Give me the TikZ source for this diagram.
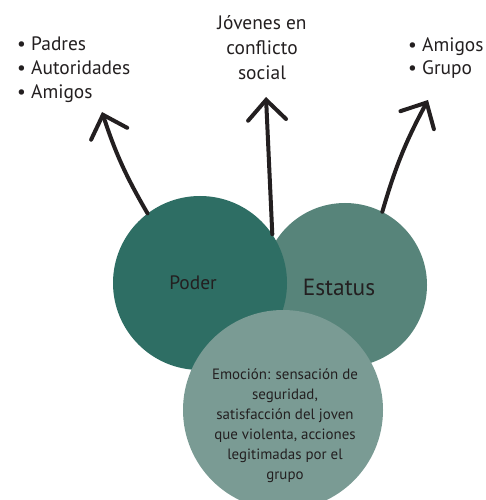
\documentclass[tikz,border=0pt]{standalone}
\usepackage{fontspec}
\setmainfont{PT Sans}
\usetikzlibrary{arrows.meta}
\definecolor{poderclr}{RGB}{46,110,100}
\definecolor{estatusclr}{RGB}{87,132,122}
\definecolor{emocionclr}{RGB}{122,155,148}
\definecolor{inkclr}{RGB}{35,31,32}
\newcommand{\bul}{\makebox[14bp][l]{\textbullet}}

\begin{document}
\begin{tikzpicture}
  [x=1bp,y=-1bp,every node/.style={text=inkclr},
   blob/.style={circle,inner sep=0pt},
   arr/.style={line width=4bp,line cap=round,draw=inkclr,
     -{Straight Barb[length=20bp,width=38bp,line cap=round]}}]
  \useasboundingbox (0,0) rectangle (486,500);

  \node (estatus) at (345,285) [blob,fill=estatusclr,minimum size=164bp] {};
  \node (poder)   at (200,283) [blob,fill=poderclr,minimum size=174bp] {};
  \node (emocion) at (283,410) [blob,fill=emocionclr,minimum size=200bp] {};

  \node (poderlbl)   at (193,283) [font=\fontsize{19.5}{22}\selectfont] {Poder};
  \node (estatuslbl) at (339,287) [font=\fontsize{23.5}{28}\selectfont] {Estatus};
  \node (emocionlbl) at (285,426) [align=center,font=\fontsize{15}{20}\selectfont]
    {Emoción: sensación de\\seguridad,\\satisfacción del joven\\que violenta, acciones\\legitimadas por el\\grupo};

  \node (izq) at (17,37) [anchor=north west,align=left,inner sep=0pt,
    font=\fontsize{19.5}{24}\selectfont] {\bul Padres\\\bul Autoridades\\\bul Amigos};
  \node (centro) at (262,48) [align=center,font=\fontsize{19.5}{25}\selectfont]
    {Jóvenes en\\conflicto\\social};
  \node (der) at (408,37) [anchor=north west,align=left,inner sep=0pt,
    font=\fontsize{19.5}{24}\selectfont] {\bul Amigos\\\bul Grupo};

  \coordinate (tipizq) at (102,112);
  \coordinate (tipcen) at (266,97);
  \coordinate (tipder) at (428,100);

  \foreach \from/\to/\bnd in {poder.127/tipizq/6,poder.34/tipcen/0,estatus.63/tipder/6}
    \draw[arr] (\from) to[bend left=\bnd] (\to);
\end{tikzpicture}
\end{document}
